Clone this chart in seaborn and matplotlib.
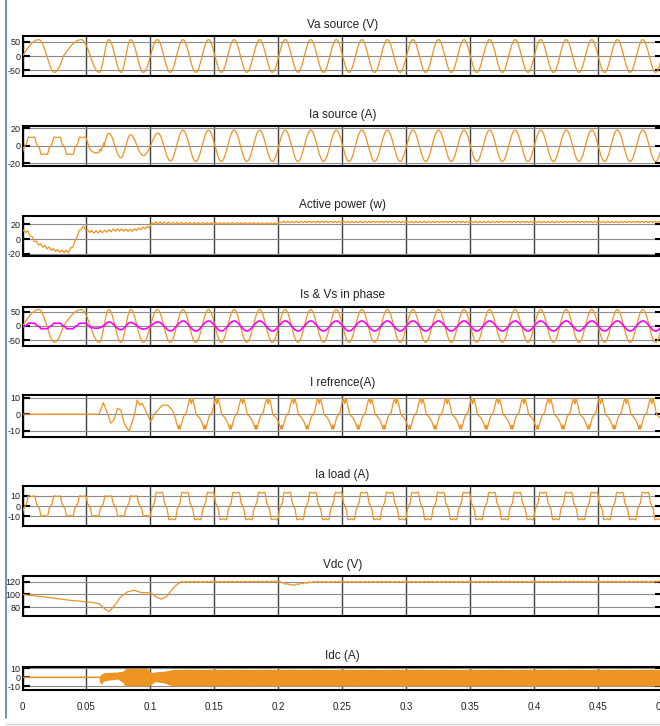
import numpy as np
import seaborn as sns
import matplotlib.pyplot as plt
from matplotlib.lines import Line2D

# scope time base (s)
t = np.linspace(0, 0.5, 20001)

titles = ['Va source (V)', 'Ia source (A)', 'Active power (w)', 'Is & Vs in phase',
          'I refrence(A)', 'Ia load (A)', 'Vdc (V)', 'Idc (A)']
yticks = [[50, 0, -50], [20, 0, -20], [20, 0, -20], [50, 0, -50],
          [10, 0, -10], [10, 0, -10], [120, 100, 80], [10, 0, -10]]
ylims = [(-71, 71), (-23, 22.5), (-23, 31.4), (-71, 69),
         (-13.8, 12), (-19.5, 19.5), (66.6, 128.6), (-14.4, 11.6)]
xticks = [0, 0.05, 0.1, 0.15, 0.2, 0.25, 0.3, 0.35, 0.4, 0.45, 0.5]
xticklabels = ['0', '0.05', '0.1', '0.15', '0.2', '0.25', '0.3', '0.35', '0.4', '0.45', '0.5']

# Va source: phase (quarter cycles: 1 = peak, 3 = trough)
va_phase_t = [0, 0.0128, 0.019, 0.025, 0.032, 0.046, 0.053, 0.060, 0.0675,
              0.077, 0.0846, 0.0945, 0.1055, 0.5]
va_phase_q = [0, 1, 2, 3, 4, 5, 6, 7, 9, 11, 13, 15, 17, 96]
va_amp = 58

# Ia load: one half cycle of the trapezoid (deg from rising zero), 50 Hz
iload_t0 = 0.002
period = 0.02
iload_deg = [0, 10, 20, 40, 48, 70, 90, 110, 132, 140, 160, 170, 180]
iload_val = [0, 0.15, 0.2, 0.9, 1.0, 0.97, 0.92, 0.97, 1.0, 0.9, 0.2, 0.15, 0]
iload_amp_t = [0, 0.099, 0.101, 0.5]
iload_amp_v = [10, 10, 13.5, 13.5]

# Ia source: switch-on transient, then in phase with Va
isrc_tr_t = [0.0527, 0.056, 0.0595, 0.0605, 0.0615, 0.0637]
isrc_tr_v = [-4.2, -8, -8, -4, -6, 3.5]
isrc_amp_t = [0.0637, 0.07, 0.077, 0.085, 0.094, 0.1, 0.107, 0.117, 0.5]
isrc_amp_v = [14, 14.5, 13.5, 12.5, 11, 12, 15, 17.8, 17.8]

# Active power (mean level) and 300 Hz ripple
p_t = [0, 0.0018, 0.004, 0.007, 0.010, 0.014, 0.0185, 0.024, 0.030, 0.036, 0.040,
       0.0429, 0.0455, 0.048, 0.050, 0.0546, 0.0624, 0.0729, 0.086, 0.099, 0.1016,
       0.13, 0.199, 0.202, 0.5]
p_v = [10, 11, 10, 3, -3.6, -8, -11, -14.7, -16.5, -16.9, -8,
       5.3, 14.2, 16.4, 12, 9.7, 10.2, 12.4, 12, 16.4, 22,
       21.3, 21.3, 23.3, 23.3]
p_rip_t = [0, 0.1, 0.2, 0.5]
p_rip_v = [1.8, 1.5, 1.0, 1.0]
ripple_p = [0, 0.25, 0.5, 0.75, 1]
ripple_v = [0, 1, 0, -1, 0]
ripple_hz = 300

# I refrence: start-up part, then repeating M / W cycle
iref_t = [0.0598, 0.0632, 0.0665, 0.069, 0.0716, 0.0742, 0.0768, 0.0794, 0.0833,
          0.0872, 0.0897, 0.0917, 0.0936, 0.0977, 0.1003, 0.1029, 0.107, 0.1094,
          0.1133, 0.1172, 0.12]
iref_v = [0, 7, 0.6, -5.4, -3.4, 3.6, 2.6, -5.4, -10.4,
          -1.4, 8.6, 5.6, 6.6, -0.4, -4.4, 0, 3.6, 5.6,
          5.6, 2.6, -3.4]
iref_t0 = 0.1226
iref_p = [0, 0.03, 0.08, 0.15, 0.22, 0.28, 0.36, 0.42, 0.47, 0.52, 0.58, 0.65,
          0.72, 0.78, 0.86, 0.92, 0.97, 1.0]
iref_c = [-6.5, -9, -6, -2, 0, 1, 7, 9.5, 6.5, 9.5, 6, 0,
          -1, -2, -4, -6.5, -9, -6.5]

# Vdc
vdc_t = [0, 0.0167, 0.035, 0.0507, 0.0598, 0.0637, 0.0677, 0.0712, 0.0768, 0.082,
         0.0872, 0.0925, 0.1003, 0.1042, 0.1082, 0.112, 0.1186, 0.1238, 0.2009,
         0.2048, 0.2113, 0.2179, 0.2283, 0.5]
vdc_v = [100, 96.4, 91.3, 88.7, 86, 78.5, 73.3, 81, 96.4, 104,
         106.7, 103, 102.6, 96.4, 92.8, 95.4, 111.8, 119.5, 120,
         117, 114.4, 117, 119.5, 120]
vdc_rip = 0.8

# Idc switching band: upper / lower envelope
idc_t = [0, 0.0605, 0.0615, 0.064, 0.075, 0.079, 0.081, 0.098, 0.101, 0.104,
         0.112, 0.118, 0.5]
idc_hi = [0, 0, 2, 4, 5, 6, 9, 9, 4, 5, 6, 8, 8]
idc_lo = [0, 0, -9, -4, -2, -6, -10, -10, -8, -5, -7, -10, -10]
idc_hz = 850


def tile(tt, t0, per, px, pv):
    return np.interp(np.mod((tt - t0) / per, 1.0), px, pv)


va = va_amp * np.sin(np.interp(t, va_phase_t, va_phase_q) * np.pi / 2)

full_x = [d / 360 for d in iload_deg] + [(d + 180) / 360 for d in iload_deg[1:]]
full_v = iload_val + [-v for v in iload_val[1:]]
iload = np.interp(t, iload_amp_t, iload_amp_v) * tile(t, iload_t0, period, full_x, full_v)

isrc = np.interp(t, isrc_amp_t, isrc_amp_v) * np.sin(np.interp(t, va_phase_t, va_phase_q) * np.pi / 2)
early = t < 0.0637
isrc[early] = np.interp(t[early], [0.05] + isrc_tr_t, [iload[t <= 0.05][-1]] + isrc_tr_v)
isrc[t <= 0.05] = iload[t <= 0.05]

power = np.interp(t, p_t, p_v) + np.interp(t, p_rip_t, p_rip_v) * tile(t, 0, 1 / ripple_hz, ripple_p, ripple_v)

iref = np.zeros_like(t)
m = (t >= iref_t[0]) & (t < 0.12)
iref[m] = np.interp(t[m], iref_t, iref_v)
iref[t >= 0.12] = tile(t[t >= 0.12], iref_t0, period, iref_p, iref_c)

vdc = np.interp(t, vdc_t, vdc_v)
vdc[t > 0.12] += vdc_rip * tile(t[t > 0.12], 0, 1 / ripple_hz, ripple_p, ripple_v)

hi = np.interp(t, idc_t, idc_hi)
lo = np.interp(t, idc_t, idc_lo)
idc = lo + (hi - lo) * tile(t, 0, 1 / idc_hz, [0, 0.5, 1], [0, 1, 0])

series = [[va], [isrc], [power], [va, isrc], [iref], [iload], [vdc], [idc]]

sns.set_style('white')
plt.rcParams['font.family'] = ['Liberation Sans', 'DejaVu Sans']
plt.rcParams['axes.unicode_minus'] = False

ORANGE = '#EE9422'
MAGENTA = '#FF00FF'
W, H = 660, 726
frames = [(36, 76), (126, 166), (216, 256), (306.5, 346), (394.5, 437),
          (486, 526), (576, 616), (667, 690)]
x0, x1 = 22.5, 662

fig = plt.figure(figsize=(W / 100, H / 100), dpi=100)
fig.patch.set_facecolor('white')

for i, (top, bot) in enumerate(frames):
    ax = fig.add_axes([x0 / W, 1 - bot / H, (x1 - x0) / W, (bot - top) / H])
    for j, y in enumerate(series[i]):
        col = MAGENTA if j == 1 else ORANGE
        lw = 1.2 if j == 1 else (1.0 if i == 7 else 0.9)
        sns.lineplot(x=t, y=y, ax=ax, color=col, linewidth=lw,
                     estimator=None, sort=False, zorder=3 + j)
    ax.set_xlim(0, 0.5)
    ax.set_ylim(*ylims[i])
    ax.set_yticks(yticks[i])
    ax.set_yticklabels([str(v) for v in yticks[i]], fontsize=6.5)
    ax.set_xticks(xticks)
    if i == len(frames) - 1:
        ax.set_xticklabels(xticklabels, fontsize=7)
    else:
        ax.set_xticklabels([])
    ax.xaxis.grid(True, color='#404040', linewidth=1.0)
    ax.yaxis.grid(True, color='#8c8c8c', linewidth=0.8)
    ax.set_axisbelow(True)
    ax.tick_params(axis='y', direction='in', length=5, width=1.5, pad=1.5,
                   left=True, right=True, colors='black', labelcolor='#222222')
    ax.tick_params(axis='x', length=0, pad=9, labelcolor='#222222')
    for s in ax.spines.values():
        s.set_color('black')
        s.set_linewidth(1.5)
    ax.set_xlabel('')
    ax.set_ylabel('')
    ax.set_title(titles[i], fontsize=8.5, color='#222222', pad=6)

# left border line and bottom rule of the original screenshot
fig.add_artist(Line2D([6.5 / W, 6.5 / W], [1 - 718 / H, 1], color='#5B7DB1', linewidth=1.2))
fig.add_artist(Line2D([6.5 / W, 1], [1 - 724 / H, 1 - 724 / H], color='#d4d4d4', linewidth=1))

fig.savefig('out.png', dpi=100, facecolor='white')
